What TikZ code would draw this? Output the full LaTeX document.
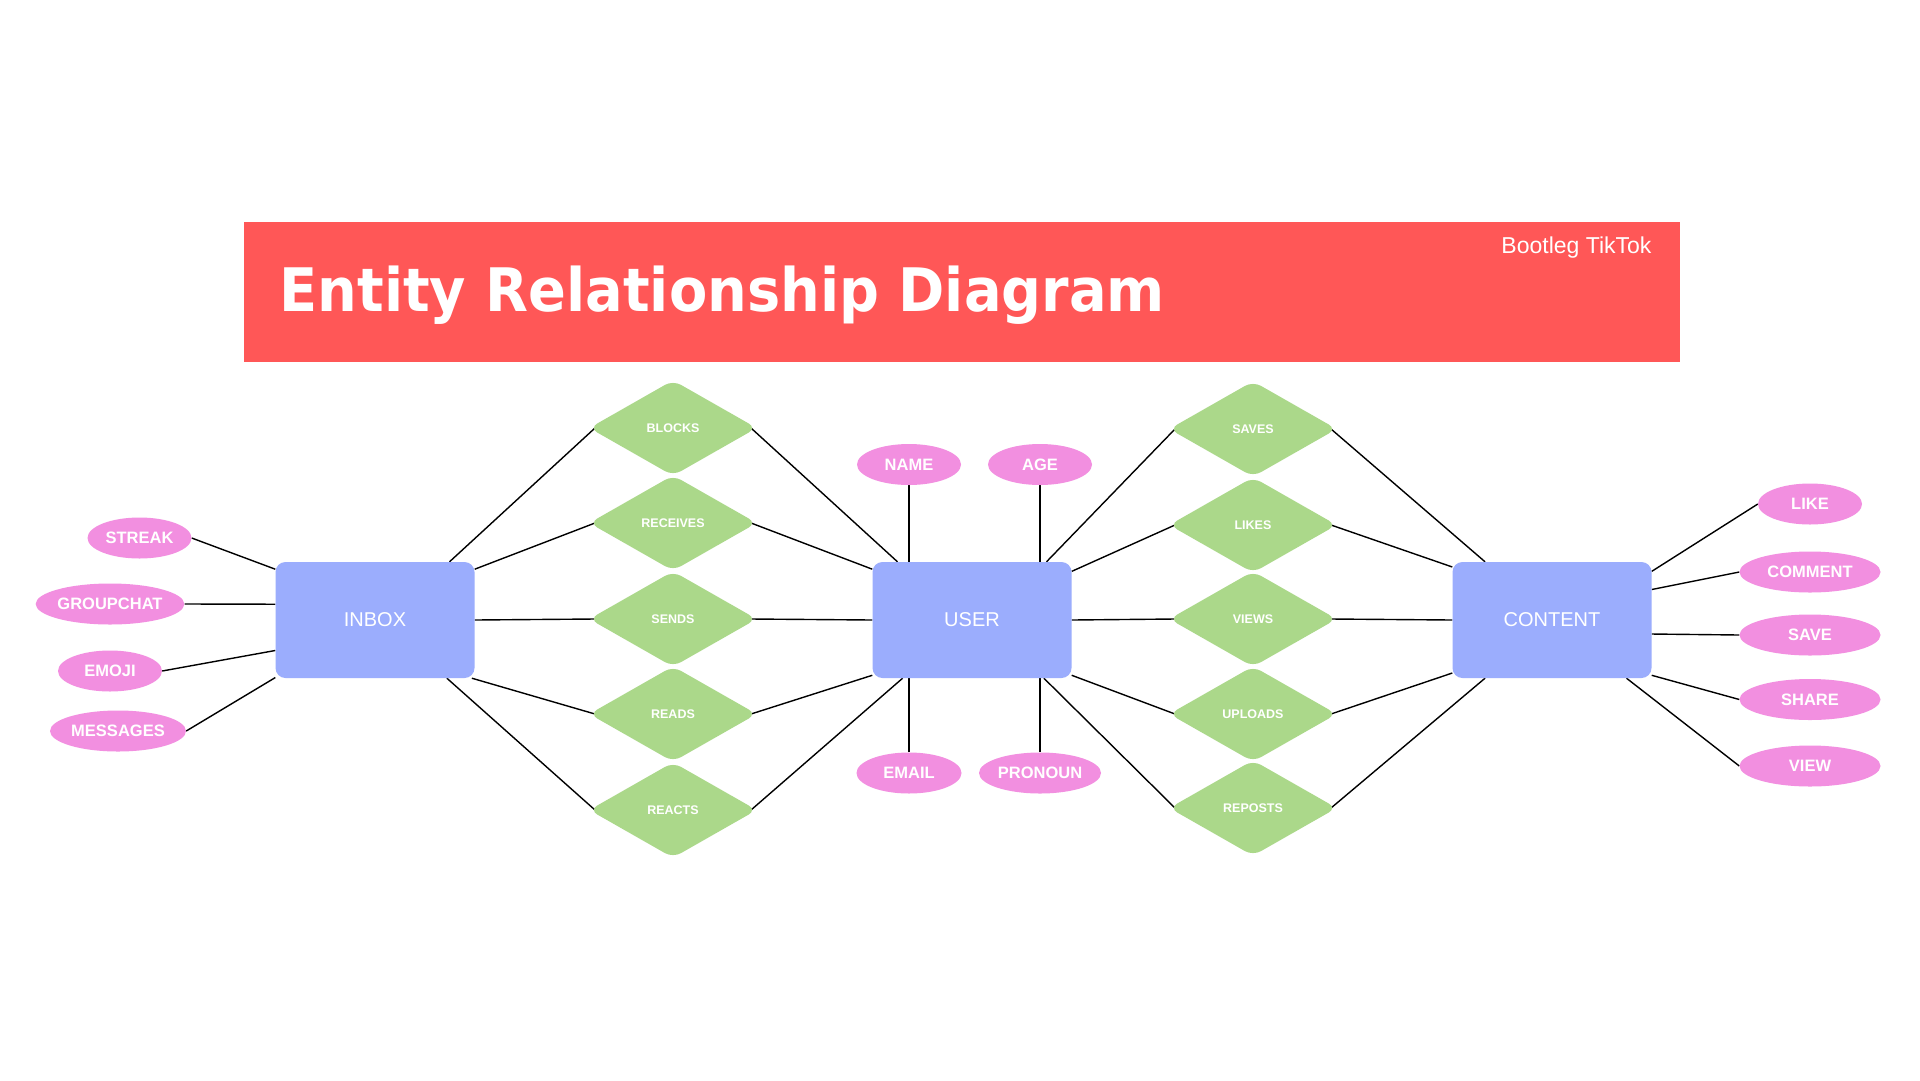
\documentclass[tikz,border=0pt]{standalone}
\usepackage{fontspec}
\setmainfont{Liberation Sans}
\newfontfamily\headfont{DejaVu Sans}
\usetikzlibrary{shapes.geometric}
\pgfdeclarelayer{background}
\pgfsetlayers{background,main}
\definecolor{hdred}{HTML}{FF5757}
\definecolor{entblue}{HTML}{9BADFD}
\definecolor{relgreen}{HTML}{ABD88A}
\definecolor{attpink}{HTML}{F28FE0}
\tikzset{
  entity/.style={rectangle,rounded corners=10pt,fill=entblue,minimum width=199pt,minimum height=116pt,inner sep=0pt,text=white,font=\fontsize{20}{24}\selectfont},
  rel/.style={diamond,aspect=1.77,rounded corners=9pt,fill=relgreen,minimum width=164pt,minimum height=92pt,inner sep=0pt,outer sep=-4pt,text=white,font=\bfseries\fontsize{12.5}{15}\selectfont},
  attr/.style={ellipse,fill=attpink,minimum height=41pt,inner sep=0pt,text=white,font=\bfseries\fontsize{16.5}{19}\selectfont},
  link/.style={line width=1.4pt}
}

\begin{document}
\begin{tikzpicture}[x=1pt,y=-1pt]
\fill[hdred] (244,222) rectangle (1680,362); %banner
\node[anchor=base west,text=white,font=\headfont\bfseries\fontsize{60}{70}\selectfont] (title) at (276,311) {\scalebox{0.93}[1]{Entity Relationship Diagram}};
\node[anchor=base east,text=white,font=\fontsize{23}{26}\selectfont] (sub) at (1655,253) {Bootleg TikTok};
\node[entity] (inbox) at (375,620) {INBOX}; %entities
\node[entity] (user) at (972,620) {USER};
\node[entity] (content) at (1552,620) {CONTENT};
\node[rel] (blocks) at (673,428) {BLOCKS}; %relationships
\node[rel] (receives) at (673,523) {RECEIVES};
\node[rel] (sends) at (673,619) {SENDS};
\node[rel] (reads) at (673,714) {READS};
\node[rel] (reacts) at (673,810) {REACTS};
\node[rel] (saves) at (1253,429) {SAVES};
\node[rel] (likes) at (1253,525) {LIKES};
\node[rel] (views) at (1253,619) {VIEWS};
\node[rel] (uploads) at (1253,714) {UPLOADS};
\node[rel] (reposts) at (1253,808) {REPOSTS};
\node[attr,minimum width=104pt] (streak) at (139.5,538) {STREAK}; %attributes
\node[attr,minimum width=142pt] (groupchat) at (110,604) {GROUPCHAT};
\node[attr,minimum width=104pt] (emoji) at (110,671) {EMOJI};
\node[attr,minimum width=136pt] (messages) at (118,731) {MESSAGES};
\node[attr,minimum width=104pt] (name) at (909,464.5) {NAME};
\node[attr,minimum width=104pt] (age) at (1040,464.5) {AGE};
\node[attr,minimum width=105pt] (email) at (909,773) {EMAIL};
\node[attr,minimum width=122pt] (pronoun) at (1040,773) {PRONOUN};
\node[attr,minimum width=104pt] (like) at (1810,504) {LIKE};
\node[attr,minimum width=141pt] (comment) at (1810,572) {COMMENT};
\node[attr,minimum width=141pt] (save) at (1810,635) {SAVE};
\node[attr,minimum width=141pt] (share) at (1810,699.5) {SHARE};
\node[attr,minimum width=141pt] (view) at (1810,766) {VIEW};
\begin{pgfonlayer}{background}
\fill[white] (0,0) rectangle (1920,1080); %page
\draw[link] (streak.east) -- (inbox.153); %inbox attributes
\draw[link] (groupchat.east) -- (inbox.171);
\draw[link] (emoji.east) -- (inbox.197);
\draw[link] (messages.east) -- (inbox.210);
\draw[link] (inbox.38) -- (blocks.west); %inbox links
\draw[link] (inbox.27) -- (receives.west);
\draw[link] (inbox.0) -- (sends.west);
\draw[link] (inbox.329) -- (reads.west);
\draw[link] (inbox.321) -- (reacts.west);
\draw[link] (blocks.east) -- (user.142); %user links
\draw[link] (receives.east) -- (user.153);
\draw[link] (sends.east) -- (user.180);
\draw[link] (reads.east) -- (user.209);
\draw[link] (reacts.east) -- (user.220);
\draw[link] (name.south) -- (name.south |- user.north); %user attributes
\draw[link] (age.south) -- (age.south |- user.north);
\draw[link] (email.north) -- (email.north |- user.south);
\draw[link] (pronoun.north) -- (pronoun.north |- user.south);
\draw[link] (user.38) -- (saves.west);
\draw[link] (user.26) -- (likes.west);
\draw[link] (user.0) -- (views.west);
\draw[link] (user.331) -- (uploads.west);
\draw[link] (user.321) -- (reposts.west);
\draw[link] (saves.east) -- (content.139); %content links
\draw[link] (likes.east) -- (content.152);
\draw[link] (views.east) -- (content.180);
\draw[link] (uploads.east) -- (content.208);
\draw[link] (reposts.east) -- (content.221);
\draw[link] (content.26) -- (like.west); %content attributes
\draw[link] (content.17) -- (comment.west);
\draw[link] (content.352) -- (save.west);
\draw[link] (content.331) -- (share.west);
\draw[link] (content.322) -- (view.west);
\end{pgfonlayer}
\end{tikzpicture}
\end{document}
